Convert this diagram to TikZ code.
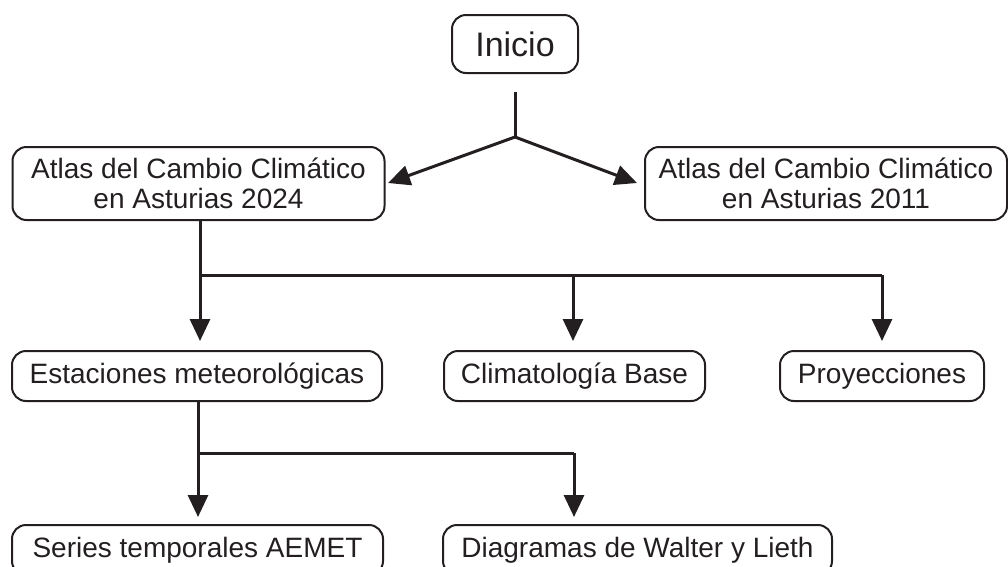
\documentclass[tikz,border=0pt]{standalone}
\usepackage{fontspec}
\setmainfont{Liberation Sans}
\usetikzlibrary{arrows.meta}
\definecolor{ink}{RGB}{35,31,32}
\begin{document}
\begin{tikzpicture}[x=1pt,y=-1pt,
  box/.style={draw=ink, line width=2pt, rounded corners=14pt, inner sep=0pt,
    align=center, font=\fontsize{28}{30}\selectfont, text=ink},
  conn/.style={line width=3pt, draw=ink},
  arr/.style={conn, -{Triangle[length=22pt,width=20pt]}}]
\useasboundingbox (0,0) rectangle (1008,566);
\clip (0,0) rectangle (1008,566);
% nodes
\node[box, minimum width=126pt, minimum height=58pt, font=\fontsize{34}{36}\selectfont] (inicio) at (515,44) {Inicio};
\node[box, minimum width=372pt, minimum height=73pt] (a24) at (198.5,183.5) {Atlas del Cambio Climático\\en Asturias 2024};
\node[box, minimum width=362pt, minimum height=73pt] (a11) at (826,183.5) {Atlas del Cambio Climático\\en Asturias 2011};
\node[box, minimum width=370pt, minimum height=50pt] (est) at (197,376) {Estaciones meteorológicas};
\node[box, minimum width=261pt, minimum height=50pt] (clim) at (574.5,376) {Climatología Base};
\node[box, minimum width=204pt, minimum height=50pt] (proy) at (882,376) {Proyecciones};
\node[box, minimum width=371pt, minimum height=50pt] (ser) at (197.5,550) {Series temporales AEMET};
\node[box, minimum width=389pt, minimum height=50pt] (diag) at (637.5,550) {Diagramas de Walter y Lieth};
% coordinates
\coordinate (s1) at (515,92);
\coordinate (j1) at (515,137);
\coordinate (t24) at (388,183);
\coordinate (t11) at (637,183);
\coordinate (j2) at (200,275);
\coordinate (j2c) at (573,275);
\coordinate (j2p) at (882,275);
\coordinate (j3) at (198,453);
\coordinate (j3d) at (574,453);
% connectors
\draw[conn] (s1) -- (j1);
\draw[arr] (j1) -- (t24);
\draw[arr] (j1) -- (t11);
\draw[conn] (a24.south -| j2) -- (j2) -- (j2p);
\draw[arr] (j2) -- ([yshift=9pt]j2 |- est.north);
\draw[arr] (j2c) -- ([yshift=9pt]j2c |- clim.north);
\draw[arr] (j2p) -- ([yshift=9pt]j2p |- proy.north);
\draw[conn] (est.south -| j3) -- (j3) -- (j3d);
\draw[arr] (j3) -- ([yshift=7pt]j3 |- ser.north);
\draw[arr] (j3d) -- ([yshift=7pt]j3d |- diag.north);
\end{tikzpicture}
\end{document}
